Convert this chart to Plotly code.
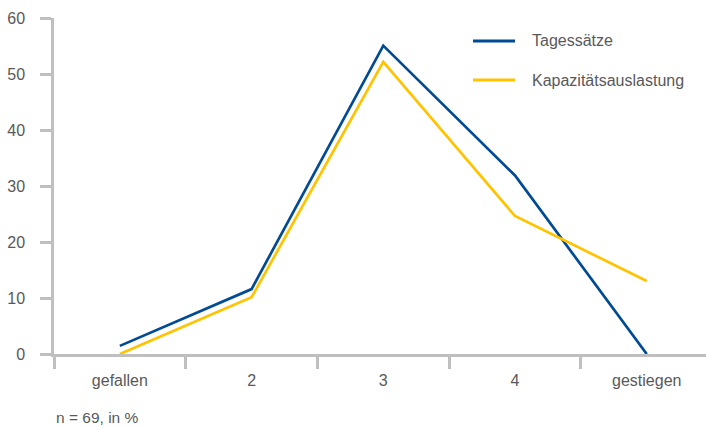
import plotly.graph_objects as go

# Survey answers (n = 69), share of respondents in %
categories = ["gefallen", "2", "3", "4", "gestiegen"]
tagessaetze = [1.45, 11.59, 55.07, 31.88, 0.0]
kapazitaet = [0.0, 10.14, 52.17, 24.64, 13.04]
y_ticks = [0, 10, 20, 30, 40, 50, 60]

BLUE = "#004B93"
YELLOW = "#FFC300"
GRID = "#BFBFBF"
TEXT = "#595959"
FONT = "Liberation Sans, Arial, sans-serif"

W, H = 706, 427
L, R, T, B = 54, 0, 18, 73
PW, PH = W - L - R, H - T - B


def px_x(x):
    return (x - L) / PW


def px_y(y):
    return (H - B - y) / PH


fig = go.Figure()
fig.add_trace(go.Scatter(x=categories, y=tagessaetze, mode="lines", name="Tagessätze",
                         line=dict(color=BLUE, width=2.7), showlegend=False))
fig.add_trace(go.Scatter(x=categories, y=kapazitaet, mode="lines", name="Kapazitätsauslastung",
                         line=dict(color=YELLOW, width=2.7), showlegend=False))

fig.update_layout(
    width=W, height=H,
    margin=dict(l=L, r=R, t=T, b=B),
    paper_bgcolor="white", plot_bgcolor="white",
    font=dict(family=FONT, size=16, color=TEXT),
    xaxis=dict(
        type="category", range=[-0.5, 4.45],
        showline=True, linecolor=GRID, linewidth=2.5,
        ticks="outside", tickson="boundaries", ticklen=12, tickwidth=2.5, tickcolor=GRID,
        showgrid=False, zeroline=False,
        tickfont=dict(size=16, color=TEXT), ticklabelstandoff=10,
    ),
    yaxis=dict(
        range=[0, 60], tickvals=y_ticks,
        showline=True, linecolor=GRID, linewidth=2.5,
        ticks="outside", ticklen=11, tickwidth=2.5, tickcolor=GRID,
        showgrid=False, zeroline=False,
        tickfont=dict(size=16, color=TEXT), ticklabelstandoff=12,
    ),
)

# Legend drawn as short line samples with labels
legend_items = [("Tagessätze", BLUE, 41), ("Kapazitätsauslastung", YELLOW, 80)]
for label, color, ypx in legend_items:
    fig.add_shape(type="line", xref="paper", yref="paper",
                  x0=px_x(473), x1=px_x(515), y0=px_y(ypx), y1=px_y(ypx),
                  line=dict(color=color, width=3))
    fig.add_annotation(text=label, xref="paper", yref="paper",
                       x=px_x(530), y=px_y(ypx),
                       xanchor="left", yanchor="middle", showarrow=False,
                       font=dict(size=16, color=TEXT))

fig.add_annotation(text="n = 69, in %", xref="paper", yref="paper",
                   x=0, y=px_y(417), xanchor="left", yanchor="middle",
                   showarrow=False, font=dict(size=15.5, color=TEXT))

fig.write_html("out.html")
